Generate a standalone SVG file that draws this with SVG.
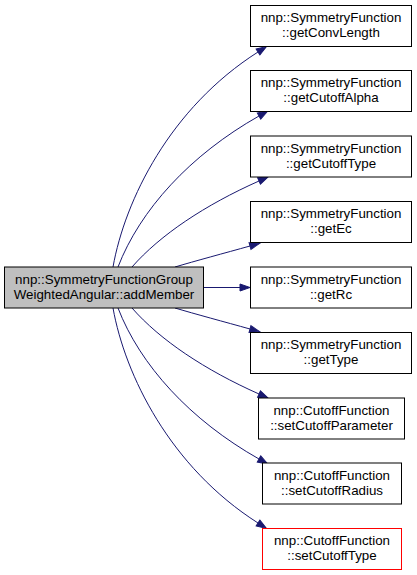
<svg xmlns="http://www.w3.org/2000/svg" width="417" height="575" viewBox="0 0 417 575">
<defs>
<style>
.box{fill:#ffffff;stroke:#000000;stroke-width:1}
.cur{fill:#bfbfbf;stroke:#000000;stroke-width:1}
.red{fill:#ffffff;stroke:#ff0000;stroke-width:1}
text{font-family:"Liberation Sans",Arial,Helvetica,sans-serif;font-size:13.33px;fill:#000000;text-anchor:middle}
.edge{fill:none;stroke:#191970;stroke-width:1;marker-end:url(#arr)}
</style>
<marker id="arr" markerUnits="userSpaceOnUse" markerWidth="12" markerHeight="9" refX="0" refY="4.5" orient="auto" overflow="visible">
<path d="M0,1 L10,4.5 L0,8 z" fill="#191970" stroke="#191970" stroke-width="1"/>
</marker>
</defs>
<rect width="417" height="575" fill="#ffffff"/>
<g id="connectors">
<path class="edge" d="M113,267 C125,200 170,108 258,52"/>
<path class="edge" d="M118,267 C140,210 190,155 259,116"/>
<path class="edge" d="M132,267 C160,235 205,205 259,181"/>
<path class="edge" d="M175,267 C195,261 225,253 250,246"/>
<path class="edge" d="M203,287.5 L240,287.5"/>
<path class="edge" d="M175,308 C195,314 225,322 250,329"/>
<path class="edge" d="M132,308 C160,340 205,370 259,394"/>
<path class="edge" d="M118,308 C140,365 190,420 259,459"/>
<path class="edge" d="M113,308 C125,375 170,467 258,523"/>
</g>
<g id="node_addMember">
<rect class="cur" x="4.5" y="267" width="199" height="41"/>
<text x="104" y="283.5">nnp::SymmetryFunctionGroup</text>
<text x="104" y="298.5">WeightedAngular::addMember</text>
</g>
<g id="node_getConvLength">
<rect class="box" x="250.5" y="5.5" width="161" height="41"/>
<text x="331" y="22">nnp::SymmetryFunction</text>
<text x="331" y="37">::getConvLength</text>
</g>
<g id="node_getCutoffAlpha">
<rect class="box" x="250.5" y="70.5" width="161" height="41"/>
<text x="331" y="87">nnp::SymmetryFunction</text>
<text x="331" y="102">::getCutoffAlpha</text>
</g>
<g id="node_getCutoffType">
<rect class="box" x="250.5" y="136" width="161" height="41"/>
<text x="331" y="152.5">nnp::SymmetryFunction</text>
<text x="331" y="167.5">::getCutoffType</text>
</g>
<g id="node_getEc">
<rect class="box" x="250.5" y="201.5" width="161" height="41"/>
<text x="331" y="218">nnp::SymmetryFunction</text>
<text x="331" y="233">::getEc</text>
</g>
<g id="node_getRc">
<rect class="box" x="250.5" y="267" width="161" height="41"/>
<text x="331" y="283.5">nnp::SymmetryFunction</text>
<text x="331" y="298.5">::getRc</text>
</g>
<g id="node_getType">
<rect class="box" x="250.5" y="332.5" width="161" height="41"/>
<text x="331" y="349">nnp::SymmetryFunction</text>
<text x="331" y="364">::getType</text>
</g>
<g id="node_setCutoffParameter">
<rect class="box" x="258.5" y="398" width="146" height="41"/>
<text x="331.5" y="414.5">nnp::CutoffFunction</text>
<text x="331.5" y="429.5">::setCutoffParameter</text>
</g>
<g id="node_setCutoffRadius">
<rect class="box" x="262.5" y="463" width="139" height="41"/>
<text x="332" y="479.5">nnp::CutoffFunction</text>
<text x="332" y="494.5">::setCutoffRadius</text>
</g>
<g id="node_setCutoffType">
<rect class="red" x="262.5" y="528.5" width="139" height="41"/>
<text x="332" y="545">nnp::CutoffFunction</text>
<text x="332" y="560">::setCutoffType</text>
</g>
</svg>
